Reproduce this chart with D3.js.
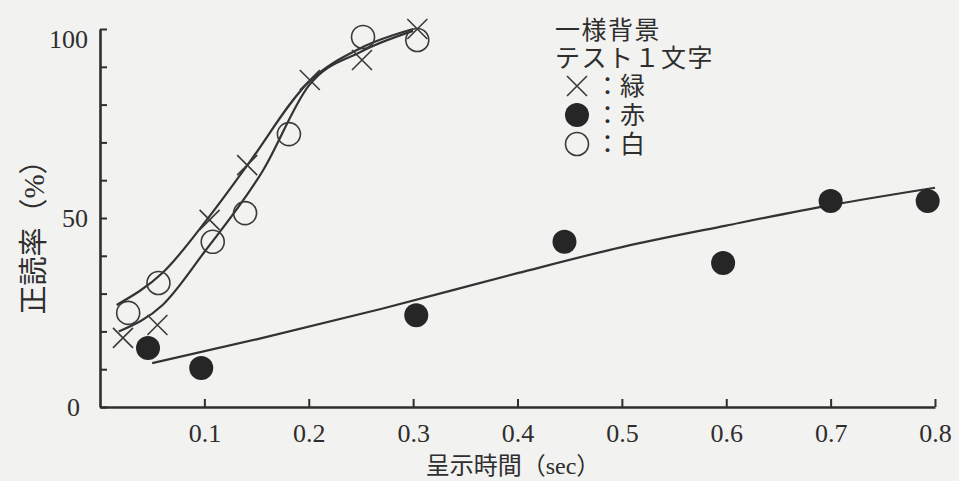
<!DOCTYPE html>
<html>
<head>
<meta charset="utf-8">
<script src="https://cdn.jsdelivr.net/npm/d3@7"></script>
<style>
  body { margin: 0; background: #f2f2f0; }
  svg { display: block; }
  text { font-family: "Liberation Serif", "Noto Sans CJK JP", serif; fill: #2e2e2e; }
</style>
</head>
<body>
<div id="viz_container"></div>
<script>
// data (x = presentation time in sec, y = percent correct)
const greenX = [0.022, 0.055, 0.105, 0.141, 0.201, 0.251, 0.304];
const greenY = [18.3, 21.7, 49.5, 64, 86.5, 91.8, 100];
const redX = [0.046, 0.097, 0.303, 0.445, 0.597, 0.700, 0.793];
const redY = [15.6, 10.3, 24.3, 43.7, 38.1, 54.5, 54.5];
const whiteX = [0.027, 0.056, 0.108, 0.139, 0.181, 0.252, 0.304];
const whiteY = [24.9, 32.8, 43.7, 51.3, 72.2, 97.9, 97.1];

// hand drawn fitted curves
const fitAX = [0.016, 0.06, 0.105, 0.14, 0.2, 0.25, 0.3];
const fitAY = [27, 35.5, 50.5, 63.5, 86, 95, 100];
const fitBX = [0.018, 0.06, 0.1, 0.156, 0.2, 0.25, 0.3];
const fitBY = [20, 27, 41, 62.5, 85, 94, 99.5];
const fitRedX = [0.05, 0.15, 0.27, 0.4, 0.5, 0.6, 0.7, 0.8];
const fitRedY = [11.6, 17.9, 26, 35.4, 42.3, 48, 53.4, 58];

// axes
const xTicks = [0.1, 0.2, 0.3, 0.4, 0.5, 0.6, 0.7, 0.8];
const yTicks = [0, 10, 20, 30, 40, 50, 60, 70, 80, 90, 100];
const yLabels = [0, 50, 100];

// legend
const legendTitle = ["一様背景", "テスト１文字"];
const legendItems = [
  {symbol: "cross", label: "：緑"},
  {symbol: "dot", label: "：赤"},
  {symbol: "ring", label: "：白"}
];

const width = 959,
  height = 481;
const ink = "#2e2e2e";

const svg = d3.select("#viz_container")
  .append("svg")
  .attr("width", width)
  .attr("height", height);

svg.append("rect")
  .attr("width", width)
  .attr("height", height)
  .attr("fill", "#f2f2f0");

const x = d3.scaleLinear().domain([0, 0.8]).range([100, 935]);
const y = d3.scaleLinear().domain([0, 100]).range([407, 29]);

const zip = (xs, ys) => xs.map((v, i) => [v, ys[i]]);

// x axis, ticks pointing up
const xAxis = svg.append("g")
  .attr("transform", `translate(0,${y(0)})`)
  .call(d3.axisBottom(x)
    .tickValues(xTicks)
    .tickSizeInner(-8)
    .tickSizeOuter(0)
    .tickPadding(17)
    .tickFormat(d3.format(".1f")));

// y axis, ticks pointing right
const yAxis = svg.append("g")
  .attr("transform", `translate(${x(0)},0)`)
  .call(d3.axisLeft(y)
    .tickValues(yTicks)
    .tickSizeInner(-7)
    .tickSizeOuter(0)
    .tickPadding(12)
    .tickFormat(d => yLabels.includes(d) ? d : ""));

[xAxis, yAxis].forEach(ax => {
  ax.select(".domain").attr("stroke", ink).attr("stroke-width", 2.6);
  ax.selectAll(".tick line").attr("stroke", ink).attr("stroke-width", 2);
  ax.selectAll("text")
    .style("font-size", "26px")
    .style("font-family", "Liberation Serif, serif")
    .attr("fill", ink);
});
// small nudges to match the print
yAxis.selectAll(".tick text").filter(d => d === 100).attr("dy", "0.7em");
yAxis.selectAll(".tick text").filter(d => d === 0).attr("x", -20);

// axis titles
svg.append("text")
  .attr("x", 513)
  .attr("y", 466)
  .attr("text-anchor", "middle")
  .attr("dominant-baseline", "central")
  .style("font-size", "24px")
  .text("呈示時間（sec）");

svg.append("text")
  .attr("transform", "translate(34,230) rotate(-90)")
  .attr("text-anchor", "middle")
  .attr("dominant-baseline", "central")
  .style("font-size", "29px")
  .text("正読率（%）");

// fitted curves
const line = d3.line()
  .x(d => x(d[0]))
  .y(d => y(d[1]))
  .curve(d3.curveMonotoneX);

const curves = svg.append("g");
[zip(fitAX, fitAY), zip(fitBX, fitBY), zip(fitRedX, fitRedY)].forEach(pts => {
  curves.append("path")
    .attr("d", line(pts))
    .attr("fill", "none")
    .attr("stroke", "#333")
    .attr("stroke-width", 2.2);
});

// markers
const crossPath = s => `M${-s},${-s}L${s},${s}M${-s},${s}L${s},${-s}`;

const drawSymbol = (g, type) => {
  if (type === "cross") {
    g.append("path")
      .attr("d", crossPath(10))
      .attr("stroke", "#3a3a3a")
      .attr("stroke-width", 1.6)
      .attr("fill", "none");
  } else if (type === "dot") {
    g.append("circle").attr("r", 12).attr("fill", "#262626");
  } else {
    g.append("circle")
      .attr("r", 11.5)
      .attr("fill", "none")
      .attr("stroke", "#3a3a3a")
      .attr("stroke-width", 1.6);
  }
};

const series = [
  {type: "cross", pts: zip(greenX, greenY)},
  {type: "dot", pts: zip(redX, redY)},
  {type: "ring", pts: zip(whiteX, whiteY)}
];

series.forEach(s => {
  svg.append("g")
    .selectAll("g")
    .data(s.pts)
    .join("g")
    .attr("transform", d => `translate(${x(d[0])},${y(d[1])})`)
    .each(function() { drawSymbol(d3.select(this), s.type); });
});

// legend
const legend = svg.append("g");
legend.selectAll("text.title")
  .data(legendTitle)
  .join("text")
  .attr("class", "title")
  .attr("x", 555)
  .attr("y", (d, i) => 30 + i * 28)
  .attr("dominant-baseline", "central")
  .attr("letter-spacing", 1.5)
  .style("font-size", "25px")
  .text(d => d);

const rows = legend.selectAll("g.row")
  .data(legendItems)
  .join("g")
  .attr("class", "row")
  .attr("transform", (d, i) => `translate(577,${86 + i * 29})`);

rows.each(function(d) { drawSymbol(d3.select(this), d.symbol); });

rows.append("text")
  .attr("x", 18)
  .attr("y", 0)
  .attr("dominant-baseline", "central")
  .style("font-size", "25px")
  .text(d => d.label);
</script>
</body>
</html>
